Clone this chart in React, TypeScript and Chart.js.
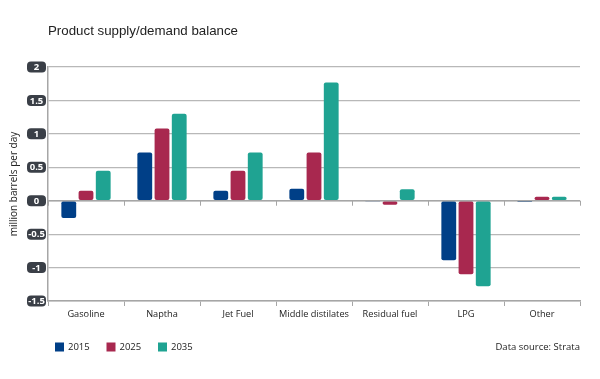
import React, { useEffect, useRef } from "react";
import { Chart, registerables } from "chart.js";

Chart.register(...registerables);

const categories = ["Gasoline", "Naptha", "Jet Fuel", "Middle distilates", "Residual fuel", "LPG", "Other"];
const seriesLabels = ["2015", "2025", "2035"];
const values2015 = [-0.26, 0.72, 0.15, 0.18, -0.01, -0.89, -0.02];
const values2025 = [0.15, 1.08, 0.45, 0.72, -0.06, -1.1, 0.06];
const values2035 = [0.45, 1.3, 0.72, 1.77, 0.17, -1.28, 0.06];
const seriesColors = ["#003f87", "#a8284f", "#1fa392"];
const yTicks = [2, 1.5, 1, 0.5, 0, -0.5, -1, -1.5];
const titleText = "Product supply/demand balance";
const yTitle = "million barrels per day";
const sourceText = "Data source: Strata";

const FONT = "'Open Sans', 'Noto Sans', sans-serif";

const decor = {
  id: "decor",
  afterDraw(chart: any) {
    const ctx = chart.ctx;
    const area = chart.chartArea;
    const y = chart.scales.y;
    const x = chart.scales.x;
    ctx.save();
    // zero axis line with tick marks
    const y0 = y.getPixelForValue(0);
    ctx.strokeStyle = "#a6a6a6";
    ctx.lineWidth = 1.5;
    ctx.beginPath();
    ctx.moveTo(area.left, y0);
    ctx.lineTo(area.right, y0);
    ctx.stroke();
    ctx.lineWidth = 1;
    const step = x.getPixelForValue(1) - x.getPixelForValue(0);
    for (let i = 0; i <= categories.length; i++) {
      const px = Math.round(i < categories.length ? x.getPixelForValue(i) - step / 2 : area.right) + 0.5;
      ctx.beginPath();
      ctx.moveTo(px, y0);
      ctx.lineTo(px, y0 + 5);
      ctx.stroke();
    }
    // y tick label boxes
    ctx.font = `bold 9.5px ${FONT}`;
    ctx.textAlign = "center";
    ctx.textBaseline = "middle";
    yTicks.forEach((v) => {
      const py = y.getPixelForValue(v);
      const w = 19, h = 11;
      const bx = area.left - 2 - w;
      ctx.fillStyle = "#3a3f47";
      ctx.beginPath();
      (ctx as any).roundRect(bx, py - h / 2, w, h, 4);
      ctx.fill();
      ctx.fillStyle = "#ffffff";
      ctx.fillText(String(v), bx + w / 2, py + 0.5);
    });
    // y title
    ctx.save();
    ctx.translate(14, (area.top + area.bottom) / 2);
    ctx.rotate(-Math.PI / 2);
    ctx.fillStyle = "#222";
    ctx.font = `10px ${FONT}`;
    ctx.fillText(yTitle, 0, 0);
    ctx.restore();
    // title
    ctx.textAlign = "left";
    ctx.textBaseline = "alphabetic";
    ctx.fillStyle = "#222";
    ctx.font = "13.3px 'Liberation Sans', Arial, sans-serif";
    ctx.fillText(titleText, area.left, 35);
    // legend
    ctx.font = `9.5px ${FONT}`;
    ctx.textBaseline = "middle";
    chart.data.datasets.forEach((ds: any, i: number) => {
      const lx = 55 + i * 51.5;
      const ly = 347;
      ctx.fillStyle = ds.backgroundColor;
      ctx.fillRect(lx, ly - 4.5, 9, 9);
      ctx.fillStyle = "#222";
      ctx.fillText(ds.label, lx + 13, ly);
    });
    ctx.textAlign = "right";
    ctx.fillText(sourceText, area.right, 347);
    ctx.restore();
  },
};

export default function App() {
  const ref = useRef<HTMLCanvasElement>(null);
  useEffect(() => {
    document.body.style.margin = "0";
    const datasets = [values2015, values2025, values2035].map((d, i) => ({
      label: seriesLabels[i],
      data: d,
      backgroundColor: seriesColors[i],
      borderRadius: 2,
      borderSkipped: false,
      categoryPercentage: 0.68,
      barPercentage: 0.86,
    }));
    const chart = new Chart(ref.current!, {
      type: "bar",
      data: { labels: categories, datasets },
      options: {
        animation: false,
        responsive: false,
        layout: { padding: { top: 67, right: 20, left: 0, bottom: 0 } },
        plugins: { legend: { display: false }, tooltip: { enabled: false }, title: { display: false } },
        scales: {
          x: {
            grid: { offset: true, drawOnChartArea: false, tickLength: 5, color: "#a6a6a6" },
            border: { color: "#a6a6a6", width: 1.5 },
            ticks: { color: "#222", font: { family: FONT, size: 9.2 }, padding: 3, maxRotation: 0, autoSkip: false },
            afterFit: (s: any) => { s.height = 78; },
          },
          y: {
            min: -1.5,
            max: 2,
            ticks: { stepSize: 0.5, color: "rgba(0,0,0,0)", font: { size: 9 } },
            grid: { color: "#b8b8b8", tickLength: 0, lineWidth: 1.2 },
            border: { color: "#a6a6a6", width: 1.5 },
            afterFit: (s: any) => { s.width = 48; },
          },
        },
      },
      plugins: [decor],
    });
    return () => chart.destroy();
  }, []);
  return <canvas ref={ref} width={600} height={379} style={{ display: "block" }} />;
}
